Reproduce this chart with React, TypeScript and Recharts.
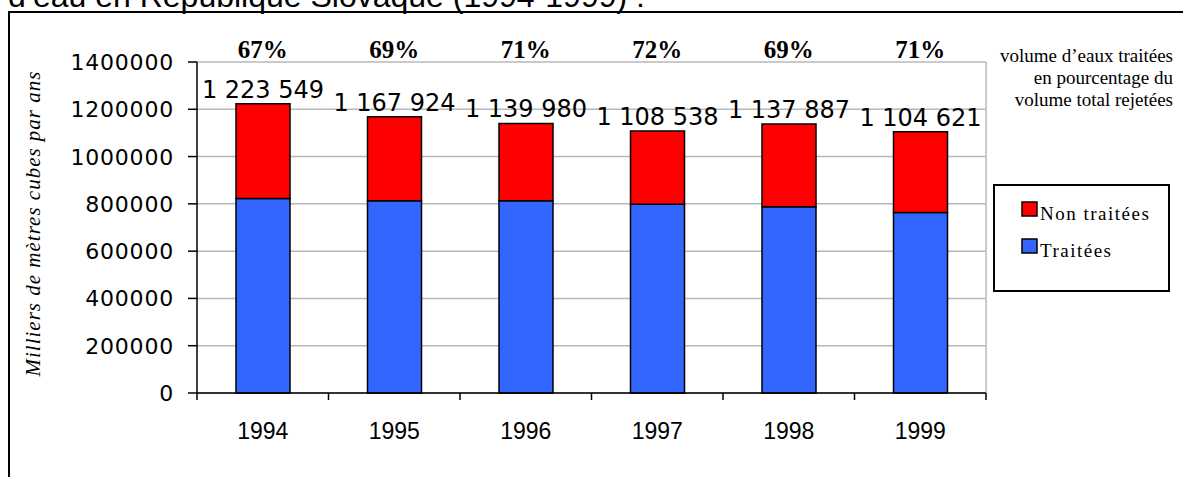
import React from 'react';
import { BarChart, Bar, XAxis, YAxis, CartesianGrid, LabelList, Legend } from 'recharts';

const years = ['1994', '1995', '1996', '1997', '1998', '1999'];
const treated = [823000, 813000, 813000, 798000, 788000, 763000];
const untreated = [400549, 354924, 326980, 310538, 349887, 341621];
const totalLabels = ['1 223 549', '1 167 924', '1 139 980', '1 108 538', '1 137 887', '1 104 621'];
const pctLabels = ['67%', '69%', '71%', '72%', '69%', '71%'];
const yTicks = [0, 200000, 400000, 600000, 800000, 1000000, 1200000, 1400000];
const legendItems = [
  { label: 'Non traitées', key: 'untreated' },
  { label: 'Traitées', key: 'treated' },
];
const sideNote = ['volume d\u2019eaux traitées', 'en pourcentage du', 'volume total rejetées'];
const titleText = 'd\u2019eau en République Slovaque (1994-1999) :';
const yTitle = 'Milliers de mètres cubes par ans';

const data = years.map((year, i) => ({
  year,
  treated: treated[i],
  untreated: untreated[i],
  totalLabel: totalLabels[i],
}));

const W = 1183;
const H = 477;
const MARGIN = { top: 22, right: 197, bottom: 54, left: 10 };
const Y_AXIS_W = 187;
const TOP_AXIS_H = 40;
const BOTTOM_AXIS_H = 30;
const PLOT_W = W - MARGIN.left - Y_AXIS_W - MARGIN.right;
const BLUE = '#3366ff';
const RED = '#ff0000';
const COLORS: Record<string, string> = { treated: BLUE, untreated: RED };
const SANS = '"DejaVu Sans", Verdana, sans-serif';
const SERIF = '"Liberation Serif", "Times New Roman", serif';
const ARIAL = '"Liberation Sans", Arial, sans-serif';

function YearTick(props: any) {
  const { x, y, payload, index } = props;
  const half = payload && typeof payload.offset === 'number' && payload.offset > 0 ? payload.offset : PLOT_W / years.length / 2;
  const isLast = index === years.length - 1;
  return (
    <g>
      <line x1={x - half} x2={x - half} y1={y} y2={y + 7} stroke="#000" strokeWidth={1.5} />
      {isLast && <line x1={x + half} x2={x + half} y1={y} y2={y + 7} stroke="#000" strokeWidth={1.5} />}
      <text x={x} y={y + 46} textAnchor="middle" fontFamily={ARIAL} fontSize={23} fill="#000">
        {payload.value}
      </text>
    </g>
  );
}

function PctTick(props: any) {
  const { x, y, index } = props;
  return (
    <text x={x} y={y} textAnchor="middle" fontFamily={SERIF} fontWeight="bold" fontSize={25} fill="#000">
      {pctLabels[index]}
    </text>
  );
}

function YTick(props: any) {
  const { x, y, payload } = props;
  return (
    <text x={x} y={y} dy={8} textAnchor="end" fontFamily={SANS} fontSize={22} letterSpacing={0.8} fill="#000">
      {String(payload.value)}
    </text>
  );
}

function TotalLabel(props: any) {
  const { x, y, width, value } = props;
  return (
    <text x={Number(x) + Number(width) / 2} y={Number(y) - 6} textAnchor="middle" fontFamily={SANS} fontSize={24} fill="#000">
      {value}
    </text>
  );
}

function YTitle(props: any) {
  const vb = props.viewBox || { x: MARGIN.left, y: 62, width: Y_AXIS_W, height: 331 };
  const cx = vb.x + 23;
  const cy = vb.y + vb.height / 2 - 4;
  return (
    <text
      x={cx}
      y={cy}
      transform={`rotate(-90 ${cx} ${cy})`}
      textAnchor="middle"
      dominantBaseline="central"
      fontFamily={SERIF}
      fontStyle="italic"
      fontSize={21}
      letterSpacing={1}
      fill="#000"
    >
      {yTitle}
    </text>
  );
}

function LegendBox() {
  return (
    <svg width={173} height={104} style={{ display: 'block' }}>
      {legendItems.map((it, i) => (
        <g key={it.key}>
          <rect x={27} y={16 + i * 37} width={15} height={14} fill={COLORS[it.key]} stroke="#000" strokeWidth={1.5} />
          <text x={45} y={34 + i * 37} fontFamily={SERIF} fontSize={19} letterSpacing={1.5} fill="#000">
            {it.label}
          </text>
        </g>
      ))}
    </svg>
  );
}

export default function App() {
  return (
    <div style={{ position: 'absolute', left: 0, top: 0, width: W, height: H, overflow: 'hidden', background: '#fff' }}>
      <div
        style={{
          position: 'absolute',
          left: 8,
          top: 11,
          width: 1300,
          height: 600,
          border: '2px solid #000',
          boxSizing: 'border-box',
        }}
      />
      <svg width={W} height={H} style={{ position: 'absolute', left: 0, top: 0 }}>
        <text x={8} y={7} fontFamily={ARIAL} fontSize={32} fill="#000">
          {titleText}
        </text>
        {sideNote.map((line, i) => (
          <text key={line} x={1173} y={62 + i * 22} textAnchor="end" fontFamily={SERIF} fontSize={19} fill="#000">
            {line}
          </text>
        ))}
      </svg>
      <div style={{ position: 'absolute', left: 0, top: 0 }}>
        <BarChart width={W} height={H} data={data} margin={MARGIN}>
          <CartesianGrid
            stroke="#b8b8b8"
            strokeWidth={1.5}
            horizontal={true}
            vertical={true}
            verticalCoordinatesGenerator={(args: any) => [args.offset.left + args.offset.width]}
          />
          <XAxis
            dataKey="year"
            type="category"
            height={BOTTOM_AXIS_H}
            axisLine={{ stroke: '#000', strokeWidth: 1.5 }}
            tickLine={false}
            tickSize={0}
            tickMargin={0}
            interval={0}
            tick={<YearTick />}
          />
          <XAxis
            xAxisId="pct"
            dataKey="year"
            type="category"
            orientation="top"
            height={TOP_AXIS_H}
            axisLine={false}
            tickLine={false}
            tickSize={0}
            tickMargin={4}
            interval={0}
            tick={<PctTick />}
          />
          <YAxis
            width={Y_AXIS_W}
            domain={[0, 1400000]}
            ticks={yTicks}
            interval={0}
            axisLine={{ stroke: '#000', strokeWidth: 1.5 }}
            tickLine={{ stroke: '#000', strokeWidth: 1.5 }}
            tickSize={9}
            tickMargin={14}
            tick={<YTick />}
            label={<YTitle />}
          />
          <Legend
            layout="horizontal"
            verticalAlign="middle"
            align="center"
            wrapperStyle={{
              left: 993,
              top: 184,
              width: 177,
              height: 108,
              margin: 0,
              border: '2px solid #000',
              boxSizing: 'border-box',
              background: '#fff',
            }}
            content={() => <LegendBox />}
          />
          <Bar dataKey="treated" name="Traitées" stackId="a" fill={BLUE} stroke="#000" strokeWidth={1.5} barSize={54} isAnimationActive={false} />
          <Bar dataKey="untreated" name="Non traitées" stackId="a" fill={RED} stroke="#000" strokeWidth={1.5} barSize={54} isAnimationActive={false}>
            <LabelList dataKey="totalLabel" content={<TotalLabel />} />
          </Bar>
        </BarChart>
      </div>
    </div>
  );
}
